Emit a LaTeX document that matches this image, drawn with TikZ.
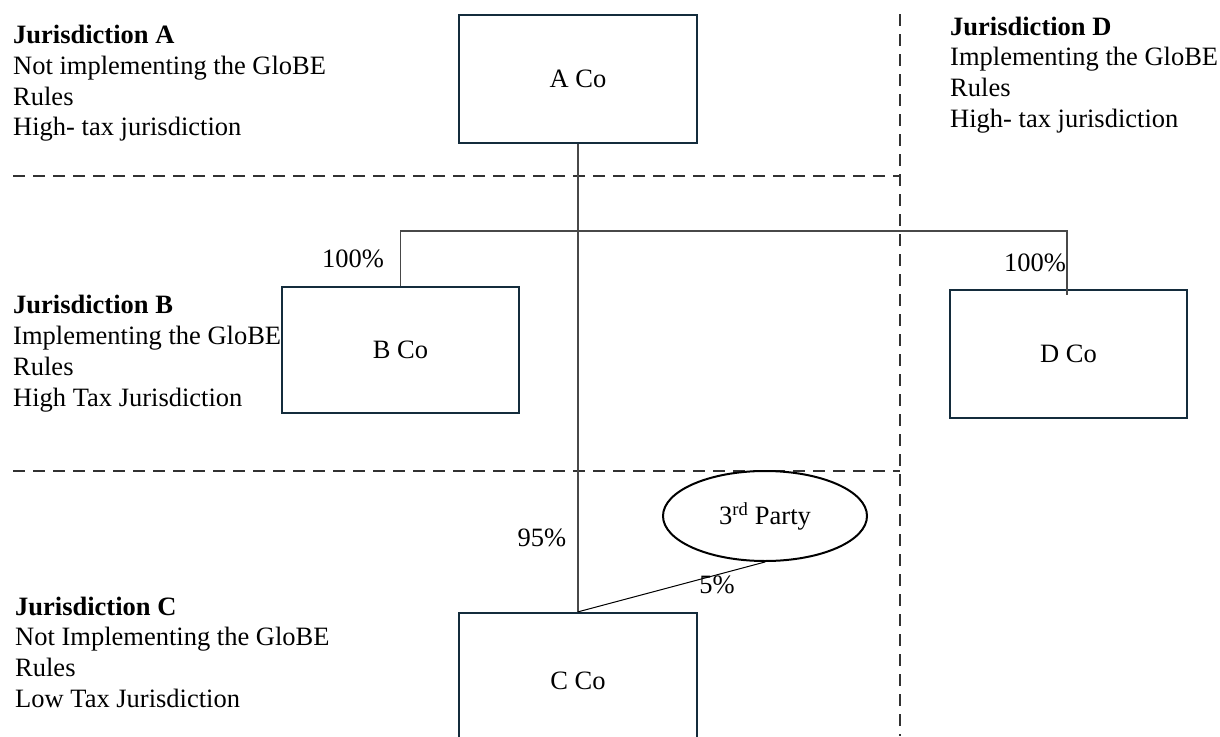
\documentclass[tikz,border=0pt]{standalone}
\usepackage{fontspec}
\setmainfont{Liberation Serif}
\usetikzlibrary{shapes.geometric}
\definecolor{boxline}{RGB}{20,44,60}
\definecolor{linkgray}{RGB}{72,72,72}
\definecolor{dashgray}{RGB}{50,50,50}
\begin{document}
\begin{tikzpicture}[x=1pt,y=-1pt,
  every node/.style={font=\fontsize{26.5}{30}\selectfont, inner sep=0pt},
  company/.style={draw=boxline, line width=2.3pt, fill=white, minimum width=238pt},
  jl/.style={anchor=base west},
  pct/.style={anchor=center},
  link/.style={draw=linkgray, line width=1.3pt},
  border/.style={draw=dashgray, line width=1.2pt, dash pattern=on 12pt off 8pt}]
\clip (0,0) rectangle (1220,736);

% jurisdiction borders
\coordinate (hA) at (13,176);
\coordinate (hB) at (13,471);
\coordinate (vT) at (900,14);
\coordinate (vB) at (900,736);
\draw[border] (vT) -- (vB);
\draw[border] (hA) -- (hA -| vT);
\draw[border] (hB) -- (hB -| vT);

% jurisdiction descriptions
\node[jl] (ja1) at (13,43) {\textbf{Jurisdiction A}};
\node[jl] (ja2) at (13,74) {Not implementing the GloBE};
\node[jl] (ja3) at (13,105) {Rules};
\node[jl] (ja4) at (13,135) {High- tax jurisdiction};

\node[jl] (jd1) at (950,35) {\textbf{Jurisdiction D}};
\node[jl] (jd2) at (950,65) {Implementing the GloBE};
\node[jl] (jd3) at (950,96) {Rules};
\node[jl] (jd4) at (950,127) {High- tax jurisdiction};

\node[jl] (jc1) at (15,615) {\textbf{Jurisdiction C}};
\node[jl] (jc2) at (15,645) {Not Implementing the GloBE};
\node[jl] (jc3) at (15,676) {Rules};
\node[jl] (jc4) at (15,707) {Low Tax Jurisdiction};

% companies
\node[company, minimum height=128pt] (A) at (578,79) {A Co};
\node[company, minimum width=237pt, minimum height=126pt] (B) at (400.5,350) {B Co};
\node[company, minimum width=237pt, minimum height=128pt] (D) at (1068.5,354) {D Co};
\node[company, minimum height=136pt] (C) at (578,681) {C Co};
\node[draw=black, line width=2pt, ellipse, minimum width=204pt, minimum height=90pt, fill=white] (P) at (765,516) {3\textsuperscript{rd} Party};

\node[jl] (jb1) at (13,313) {\textbf{Jurisdiction B}};
\node[jl] (jb2) at (13,344) {Implementing the GloBE};
\node[jl] (jb3) at (13,375) {Rules};
\node[jl] (jb4) at (13,406) {High Tax Jurisdiction};

% ownership links
\coordinate (bar) at (578,231);
\coordinate (Dend) at (1067,295);
\draw[link] (A.south) -- (C.north);
\draw[link] (B.north) -- (B.north |- bar) -- (Dend |- bar) -- (Dend);
\draw[black, line width=1pt] (P.south) -- (C.north);

% shareholding percentages
\node[pct] (pB) at (353,259) {100\%};
\node[pct] (pD) at (1035,263) {100\%};
\node[pct] (pC) at (542,538) {95\%};
\node[pct] (pP) at (717,585) {5\%};
\end{tikzpicture}
\end{document}
